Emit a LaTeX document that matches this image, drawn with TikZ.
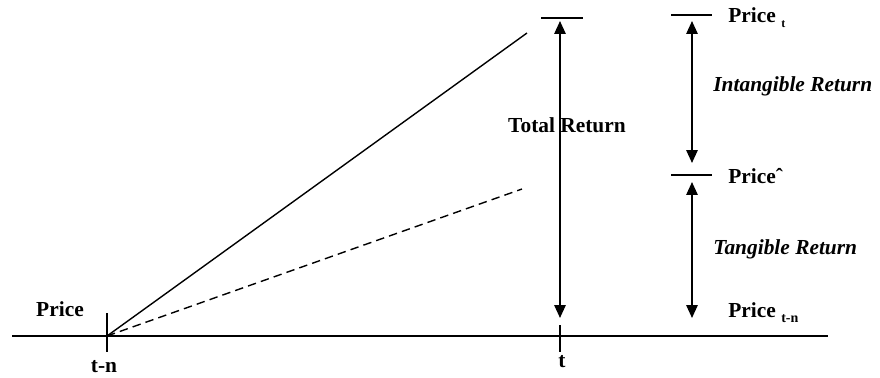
\documentclass[tikz,border=0pt]{standalone}
\usepackage{fontspec}
\setmainfont{Liberation Serif}
\usetikzlibrary{arrows.meta}
\begin{document}
\begin{tikzpicture}[x=0.5pt,y=-0.5pt,
  lbl/.style={font=\fontsize{10.7}{12}\selectfont\bfseries, inner sep=0pt},
  ilbl/.style={inner sep=0pt, font=\fontsize{10.7}{12}\selectfont\bfseries\itshape},
  dbl/.style={{Triangle[width=5.6pt,length=6.4pt]}-{Triangle[width=5.6pt,length=6.4pt]}, line width=0.9pt},
  bar/.style={line width=0.7pt},
  axisline/.style={line width=0.7pt},
  trend/.style={line width=0.7pt}]
\useasboundingbox (0,0) rectangle (880,377);
% axis
\coordinate (axL) at (12,336);
\coordinate (axR) at (828,336);
\draw[axisline] (axL) -- (axR);
\coordinate (tnTop) at (107,313);
\coordinate (tnBot) at (107,352);
\coordinate (tTop) at (560,325);
\coordinate (tBot) at (560,352);
\draw[axisline] (tnTop) -- (tnBot);
\draw[axisline] (tTop) -- (tBot);
% trend lines
\coordinate (origin) at (107,336);
\coordinate (solidEnd) at (527,33);
\coordinate (dashEnd) at (522,189);
\draw[trend] (origin) -- (solidEnd);
\draw[trend, dash pattern=on 4.2pt off 2.6pt] (origin) -- (dashEnd);
% total return
\coordinate (tbL) at (541,18);
\coordinate (tbR) at (583,18);
\draw[bar] (tbL) -- (tbR);
\coordinate (totTop) at (560,21);
\coordinate (totBot) at (560,318);
\draw[dbl] (totTop) -- (totBot);
% right side bars
\coordinate (b1L) at (671,15);
\coordinate (b1R) at (712,15);
\coordinate (b2L) at (671,175);
\coordinate (b2R) at (712,175);
\draw[bar] (b1L) -- (b1R);
\draw[bar] (b2L) -- (b2R);
\coordinate (iTop) at (692,21);
\coordinate (iBot) at (692,163);
\coordinate (gTop) at (692,182);
\coordinate (gBot) at (692,318);
\draw[dbl] (iTop) -- (iBot);
\draw[dbl] (gTop) -- (gBot);
% labels
\node[lbl, anchor=west] (pt) at (728,18) {Price \raisebox{-0.5ex}{\fontsize{6}{6}\selectfont t}};
\node[ilbl, anchor=west] (intang) at (713,86) {Intangible Return};
\node[lbl, anchor=west] (phat) at (728,176) {Price\char"02C6};
\node[ilbl, anchor=west] (tang) at (713,249) {Tangible Return};
\node[lbl, anchor=west] (ptn) at (728,313) {Price \raisebox{-0.5ex}{\fontsize{7}{7}\selectfont t-n}};
\node[lbl] (total) at (567,125) {Total Return};
\node[lbl] (pleft) at (60,309) {Price};
\node[lbl] (tnl) at (104,367) {t-n};
\node[lbl] (tl) at (562,362) {t};
\end{tikzpicture}
\end{document}
